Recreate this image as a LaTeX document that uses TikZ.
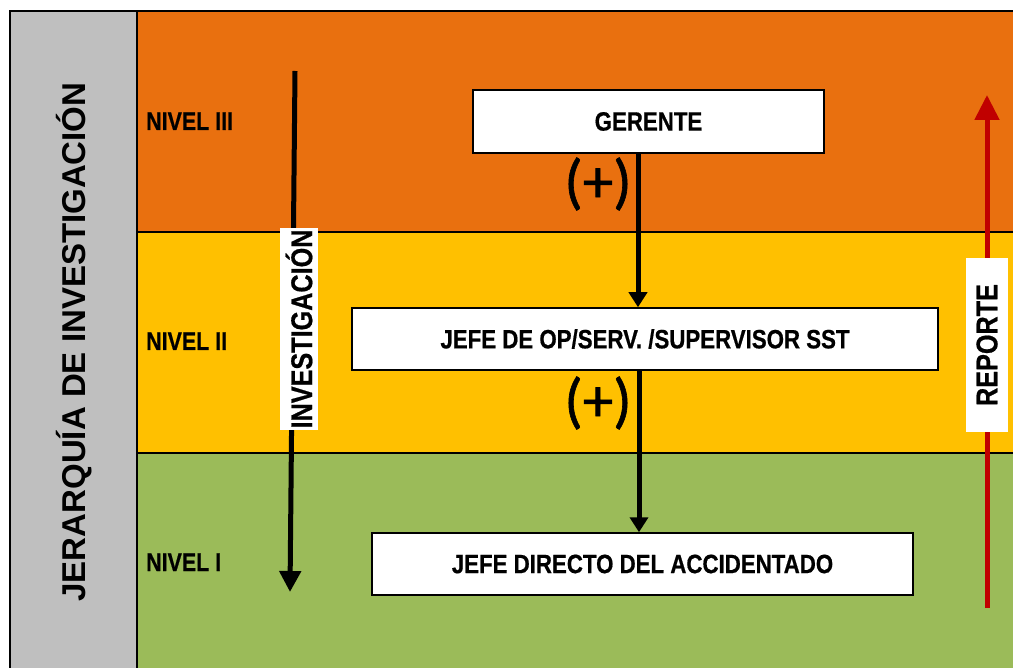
\documentclass[tikz,border=0pt]{standalone}
\usepackage{fontspec}
\setmainfont{Liberation Sans}
\newfontfamily\narrowfont{Liberation Sans}[FakeStretch=0.84, FakeBold=0.6]
\newfontfamily\plusfont{Carlito}[FakeBold=1]
\usetikzlibrary{arrows.meta}
\definecolor{bandorange}{HTML}{E9700F}
\definecolor{bandyellow}{HTML}{FFC000}
\definecolor{bandgreen}{HTML}{9BBB59}
\definecolor{colgray}{HTML}{BFBFBF}
\definecolor{reparrow}{HTML}{C00000}
\tikzset{
  rolebox/.style={draw=black, fill=white, line width=1.5pt, inner sep=0pt,
    font=\narrowfont\bfseries\fontsize{26.5}{27}\selectfont},
  nivel/.style={anchor=base west, inner sep=0pt,
    font=\narrowfont\bfseries\fontsize{25.5}{26}\selectfont},
  plus/.style={inner sep=0pt, font=\plusfont\fontsize{61}{62}\selectfont},
  flowarrow/.style={line width=5pt, -{Triangle[width=18pt,length=15pt]}},
  sidelabel/.style={fill=white, inner sep=0pt, rotate=90,
    font=\narrowfont\bfseries\fontsize{30}{30}\selectfont},
}
\begin{document}
\begin{tikzpicture}[x=1pt,y=-1pt]
\useasboundingbox (0,0) rectangle (1013,668);
% bands
\fill[bandorange] (137,11) rectangle (1013,232);
\fill[bandyellow] (137,232) rectangle (1013,453);
\fill[bandgreen] (137,453) rectangle (1013,668);
\draw[line width=2pt] (137,11) -- (1013,11);
\draw[line width=2pt] (137,232) -- (1013,232);
\draw[line width=2pt] (137,453) -- (1013,453);
% gray column
\fill[colgray] (10,11) rectangle (137,670);
\draw[line width=1.5pt] (10,670) -- (10,11) -- (137,11) -- (137,670);
\node[rotate=90, anchor=base, inner sep=0pt,
  font=\bfseries\fontsize{33}{34}\selectfont] (title) at (85,342) {JERARQUÍA DE INVESTIGACIÓN};
% level labels
\node[nivel] (n3) at (146,130) {NIVEL III};
\node[nivel] (n2) at (146,350) {NIVEL II};
\node[nivel] (n1) at (146,571) {NIVEL I};
% boxes
\node[rolebox, minimum width=351pt, minimum height=63pt] (gerente) at (648.5,121.5) {GERENTE};
\node[rolebox, minimum width=586pt, minimum height=62pt] (jefeop) at (645,339) {JEFE DE OP/SERV. /SUPERVISOR SST};
\node[rolebox, minimum width=541pt, minimum height=62pt] (jefedir) at (642.5,564) {JEFE DIRECTO DEL ACCIDENTADO};
% connectors
\coordinate (xa) at (638,0);
\coordinate (xb) at (639,0);
\draw[flowarrow] (gerente.south -| xa) -- (jefeop.north -| xa);
\draw[flowarrow] (jefeop.south -| xb) -- (jefedir.north -| xb);
\node[plus] (p1) at (598,184) {(+)};
\node[plus] (p2) at (598,403) {(+)};
% investigation arrow
\coordinate (invtop) at (295,71);
\coordinate (invbot) at (290,592);
\draw[line width=5pt, -{Triangle[width=21pt,length=21pt]}] (invtop) -- (invbot);
\node[sidelabel, minimum width=202pt, minimum height=38pt] (inv) at (299,329) {INVESTIGACIÓN};
% report arrow
\coordinate (reptop) at (987,95);
\coordinate (repbot) at (987,608);
\draw[reparrow, line width=5pt, -{Triangle[width=24pt,length=25pt]}] (repbot) -- (reptop);
\node[sidelabel, minimum width=174pt, minimum height=42pt] (rep) at (987,345) {REPORTE};
\end{tikzpicture}
\end{document}
